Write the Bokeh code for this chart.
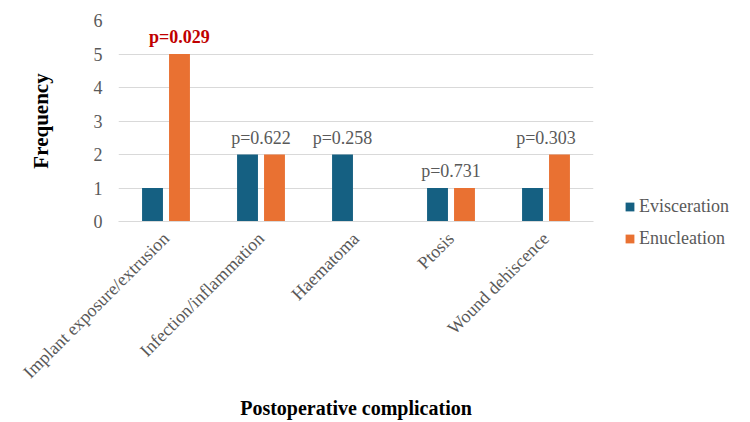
from bokeh.plotting import figure
from bokeh.models import ColumnDataSource, FactorRange, Range1d, SingleIntervalTicker, Legend, LegendItem
from bokeh.layouts import row, column
from bokeh.transform import dodge
from bokeh.core.properties import value
from bokeh.embed import file_html
from bokeh.resources import INLINE
import math

categories = ["Implant exposure/extrusion", "Infection/inflammation", "Haematoma", "Ptosis", "Wound dehiscence"]
evisceration = [1, 2, 2, 1, 1]
enucleation = [5, 2, 0, 1, 2]
p_values = ["0.029", "0.622", "0.258", "0.731", "0.303"]
label_anchor = ["Enucleation", "center", "Evisceration", "center", "center"]
series_names = ["Evisceration", "Enucleation"]

BLUE = "#156082"
ORANGE = "#E97132"
GREY = "#595959"
FONT = "Liberation Serif"

p = figure(x_range=FactorRange(*categories), y_range=Range1d(0, 6),
           width=600, height=422, output_backend="svg", toolbar_location=None,
           min_border_left=118, min_border_right=7, min_border_top=20, min_border_bottom=201)
p.outline_line_color = None
p.background_fill_color = "white"
p.border_fill_color = "white"

src = ColumnDataSource(dict(cat=categories, ev=evisceration, en=enucleation))
off = 0.142
bw = 0.22
p.vbar(x=dodge("cat", -off, range=p.x_range), top="ev", width=bw, source=src, color=BLUE, line_color=None)
p.vbar(x=dodge("cat", off, range=p.x_range), top="en", width=bw, source=src, color=ORANGE, line_color=None)

# p-value labels
lx_off = []
ly = []
cols = []
styles = []
for i, c in enumerate(categories):
    a = label_anchor[i]
    lx_off.append((c, -off if a == "Evisceration" else (off if a == "Enucleation" else 0.0)))
    ly.append(max(evisceration[i], enucleation[i]))
    sig = float(p_values[i]) < 0.05
    cols.append("#C00000" if sig else GREY)
    styles.append("bold" if sig else "normal")
lsrc = ColumnDataSource(dict(x=lx_off, y=ly, t=["p=" + v for v in p_values], c=cols, s=styles))
p.text(x="x", y="y", text="t", source=lsrc, text_color="c", text_font_style="s",
       text_font=value(FONT), text_font_size="18px", text_align="center",
       text_baseline="bottom", y_offset=-7)

# axes
p.yaxis.ticker = SingleIntervalTicker(interval=1)
p.ygrid.ticker = SingleIntervalTicker(interval=1)
p.ygrid.grid_line_color = "#D9D9D9"
p.xgrid.grid_line_color = None
p.yaxis.axis_line_color = None
p.yaxis.major_tick_line_color = None
p.yaxis.minor_tick_line_color = None
p.yaxis.major_label_text_font = FONT
p.yaxis.major_label_text_font_size = "18px"
p.yaxis.major_label_text_color = GREY
p.yaxis.major_label_standoff = 10
p.yaxis.axis_label = "Frequency"
p.yaxis.axis_label_text_font = FONT
p.yaxis.axis_label_text_font_size = "21px"
p.yaxis.axis_label_text_font_style = "bold"
p.yaxis.axis_label_text_color = "black"
p.yaxis.axis_label_standoff = 38

p.xaxis.axis_line_color = "#D9D9D9"
p.xaxis.major_tick_line_color = None
p.xaxis.minor_tick_line_color = None
p.xaxis.major_label_orientation = math.pi / 4
p.xaxis.major_label_text_font = FONT
p.xaxis.major_label_text_font_size = "18px"
p.xaxis.major_label_text_color = GREY
p.xaxis.major_label_standoff = 8
p.xaxis.axis_label = "Postoperative complication"
p.xaxis.axis_label_text_font = FONT
p.xaxis.axis_label_text_font_size = "20px"
p.xaxis.axis_label_text_font_style = "bold"
p.xaxis.axis_label_text_color = "black"
p.xaxis.axis_label_standoff = 5

# legend panel
lg = figure(width=150, height=422, output_backend="svg", toolbar_location=None,
            x_axis_location=None, y_axis_location=None, min_border=0,
            x_range=Range1d(0, 1), y_range=Range1d(0, 1))
lg.outline_line_color = None
lg.background_fill_color = "white"
lg.border_fill_color = "white"
lg.xgrid.visible = False
lg.ygrid.visible = False
d1 = lg.vbar(x=[5], top=[6], bottom=[5], width=0.1, color=BLUE, line_color=None)
d2 = lg.vbar(x=[5], top=[6], bottom=[5], width=0.1, color=ORANGE, line_color=None)
legend = Legend(items=[LegendItem(label=series_names[0], renderers=[d1]),
                       LegendItem(label=series_names[1], renderers=[d2])],
                location=(24, 173), padding=0, margin=0, spacing=11,
                glyph_width=11, glyph_height=11, label_height=20, label_standoff=4,
                label_text_font=FONT, label_text_font_size="18px", label_text_color=GREY,
                border_line_color=None, background_fill_alpha=0)
lg.add_layout(legend)

layout = row(p, column(lg))
open("out.html", "w").write(file_html(layout, INLINE))
